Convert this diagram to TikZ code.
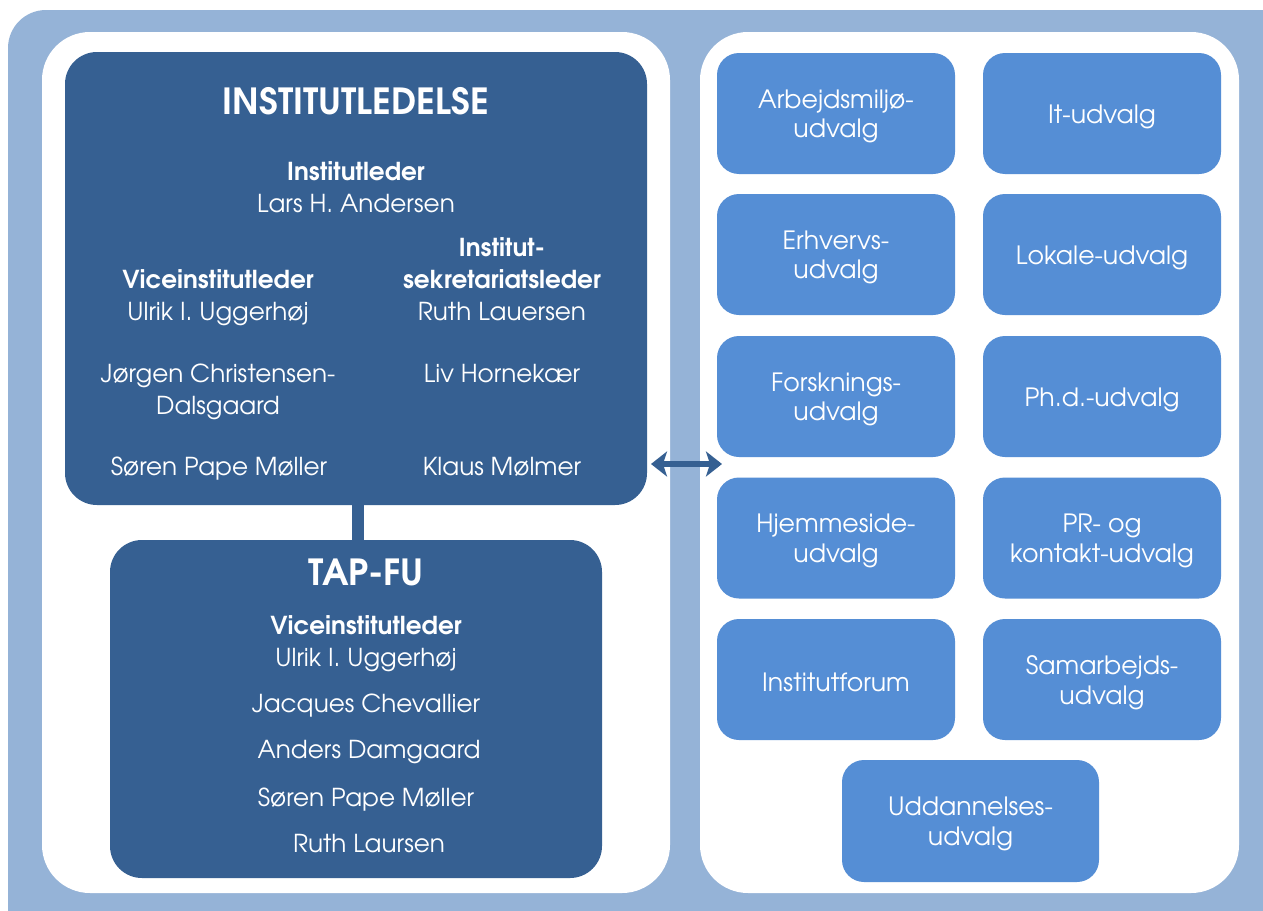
\documentclass[tikz,border=0pt]{standalone}
\usepackage{fontspec}
\setmainfont{texgyreadventor}[Extension=.otf, UprightFont=*-regular, BoldFont=*-bold, ItalicFont=*-italic, BoldItalicFont=*-bolditalic]
\usetikzlibrary{arrows.meta}
\definecolor{lightb}{HTML}{95B3D7}
\definecolor{darkb}{HTML}{366092}
\definecolor{midb}{HTML}{558ED5}
\begin{document}
\begin{tikzpicture}[x=1pt,y=-1pt,
  panel/.style={fill=white, rounded corners=48pt, inner sep=0pt, draw=none},
  bigbox/.style={fill=darkb, rounded corners=32pt, draw=none, inner sep=0pt},
  smallbox/.style={fill=midb, rounded corners=22pt, minimum width=238pt, minimum height=121pt, inner sep=0pt},
  boxtxt/.style={text=white, align=center, inner sep=0pt, yshift=-3pt, font=\fontsize{25.2}{29.5}\selectfont},
  ttl/.style={text=white, inner sep=0pt, font=\bfseries\fontsize{36}{40}\selectfont},
  txt/.style={text=white, align=center, inner sep=0pt, font=\fontsize{24.7}{32}\selectfont},
  link/.style={draw=darkb, line width=12pt},
  dbl/.style={draw=darkb, line width=6pt, {Stealth[length=16pt,width=25pt,inset=4pt]}-{Stealth[length=16pt,width=25pt,inset=4pt]}}
]
\useasboundingbox (0,0) rectangle (1263,910);
\clip (0,0) rectangle (1263,910);
\fill[lightb, rounded corners=38pt] (8,10) rectangle (1320,980);

\node[panel, minimum width=628pt, minimum height=861pt] (lp) at (356,462.5) {};
\node[panel, minimum width=539pt, minimum height=861pt] (rp) at (969.5,462.5) {};

\node[bigbox, minimum width=582pt, minimum height=453pt] (inst) at (356,278.5) {};
\node[bigbox, minimum width=492pt, minimum height=338pt] (tap) at (356,709) {};
\draw[link] ([xshift=2pt]inst.south) -- ([xshift=2pt]tap.north);

% Institutledelse texts
\node[ttl] (t1) at (356,101) {INSTITUTLEDELSE};
\node[txt] (il) at (356,187) {{\bfseries Institutleder}\\Lars H. Andersen};
\node[txt] (vl) at (218,298) {{\bfseries Viceinstitutleder}\\Ulrik I. Uggerhøj};
\node[txt] (sl) at (502,279) {{\bfseries Institut-}\\{\bfseries sekretariatsleder}\\Ruth Lauersen};
\node[txt] (jc) at (218,392) {Jørgen Christensen-\\Dalsgaard};
\node[txt] (lh) at (502,374) {Liv Hornekær};
\node[txt] (sp) at (219,469) {Søren Pape Møller};
\node[txt] (km) at (502,467) {Klaus Mølmer};

% TAP-FU texts
\node[ttl] (t2) at (366,572) {TAP-FU};
\node[txt] (vl2) at (366,643.5) {{\bfseries Viceinstitutleder}\\Ulrik I. Uggerhøj};
\node[txt] (jch) at (366,706) {Jacques Chevallier};
\node[txt] (ad) at (369,752) {Anders Damgaard};
\node[txt] (sp2) at (366,800) {Søren Pape Møller};
\node[txt] (rl) at (369,844) {Ruth Laursen};

% committees
\node[smallbox] (u1) at (836,113.5) {};
\node[boxtxt] (u1t) at (u1) {Arbejdsmiljø-\\udvalg};
\node[smallbox] (u2) at (1102,113.5) {};
\node[boxtxt] (u2t) at (u2) {It-udvalg};
\node[smallbox] (u3) at (836,254.5) {};
\node[boxtxt] (u3t) at (u3) {Erhvervs-\\udvalg};
\node[smallbox] (u4) at (1102,254.5) {};
\node[boxtxt] (u4t) at (u4) {Lokale-udvalg};
\node[smallbox] (u5) at (836,396.5) {};
\node[boxtxt] (u5t) at (u5) {Forsknings-\\udvalg};
\node[smallbox] (u6) at (1102,396.5) {};
\node[boxtxt] (u6t) at (u6) {Ph.d.-udvalg};
\node[smallbox] (u7) at (836,538) {};
\node[boxtxt] (u7t) at (u7) {Hjemmeside-\\udvalg};
\node[smallbox] (u8) at (1102,538) {};
\node[boxtxt] (u8t) at (u8) {PR- og\\kontakt-udvalg};
\node[smallbox] (u9) at (836,679.5) {};
\node[boxtxt] (u9t) at (u9) {Institutforum};
\node[smallbox] (u10) at (1102,679.5) {};
\node[boxtxt] (u10t) at (u10) {Samarbejds-\\udvalg};
\node[smallbox, minimum width=257pt, minimum height=122pt] (u11) at (970.5,821) {};
\node[boxtxt] (u11t) at (u11) {Uddannelses-\\udvalg};

\coordinate (aL) at (651,464);
\coordinate (aR) at (722,464);
\draw[dbl] (aL) -- (aR);
\end{tikzpicture}
\end{document}
